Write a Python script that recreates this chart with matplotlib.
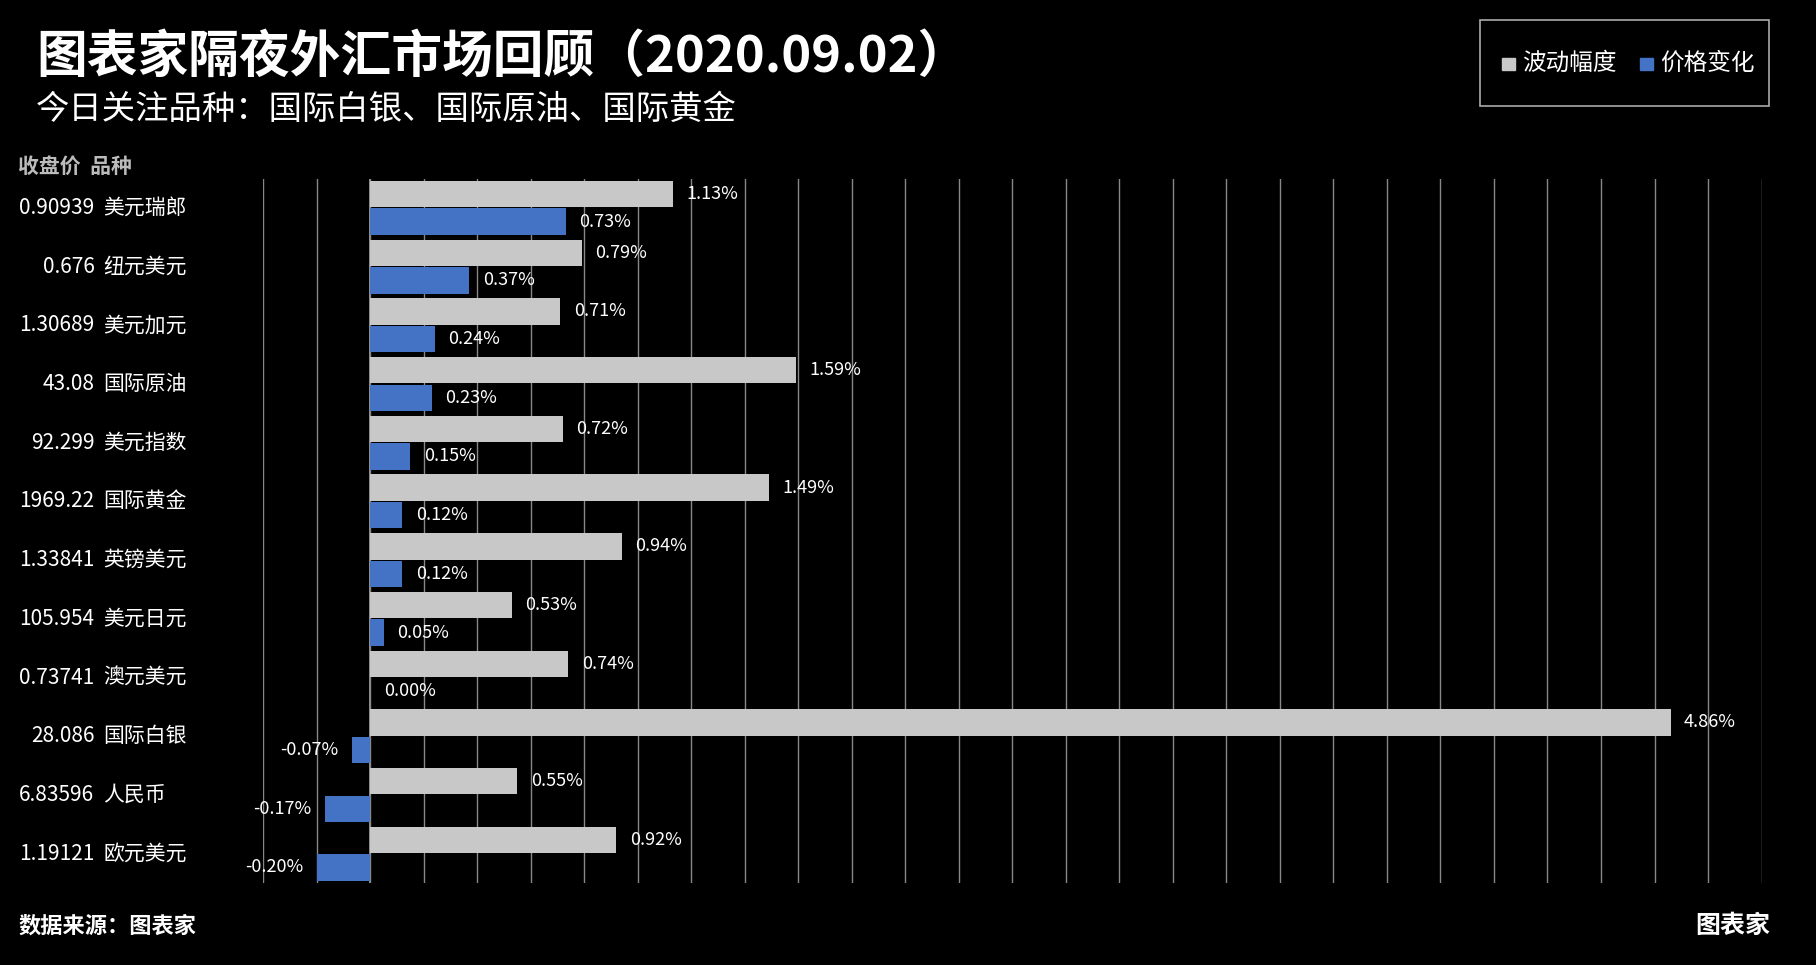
import matplotlib
matplotlib.use('Agg')
import matplotlib.pyplot as plt
import numpy as np
from matplotlib.patches import Rectangle

plt.rcParams['font.family'] = ['Noto Sans CJK SC', 'DejaVu Sans']

names = ['美元瑞郎', '纽元美元', '美元加元', '国际原油', '美元指数', '国际黄金',
         '英镑美元', '美元日元', '澳元美元', '国际白银', '人民币', '欧元美元']
prices = ['0.90939', '0.676', '1.30689', '43.08', '92.299', '1969.22',
          '1.33841', '105.954', '0.73741', '28.086', '6.83596', '1.19121']
volatility = [1.13, 0.79, 0.71, 1.59, 0.72, 1.49, 0.94, 0.53, 0.74, 4.86, 0.55, 0.92]
change = [0.73, 0.37, 0.24, 0.23, 0.15, 0.12, 0.12, 0.05, 0.00, -0.07, -0.17, -0.20]

gray = '#c8c8c8'
blue = '#4472c4'

fig = plt.figure(figsize=(18.16, 9.65), dpi=100, facecolor='black')
ax = fig.add_axes([0.145, 0.085, 0.825, 0.73], facecolor='black')

y = np.arange(len(names))
h = 0.45
ax.barh(y - 0.235, volatility, height=h, color=gray)
ax.barh(y + 0.235, change, height=h, color=blue)

for i in range(len(names)):
    ax.text(volatility[i] + 0.05, y[i] - 0.235, f'{volatility[i]:.2f}%',
            color='white', fontsize=13, va='center', ha='left')
    c = change[i]
    if c >= 0:
        ax.text(c + 0.05, y[i] + 0.235, f'{c:.2f}%', color='white',
                fontsize=13, va='center', ha='left')
    else:
        ax.text(c - 0.05, y[i] + 0.235, f'{c:.2f}%', color='white',
                fontsize=13, va='center', ha='right')

ax.set_xlim(-0.4, 5.2)
ax.set_ylim(len(names) - 0.5, -0.5)
ax.set_xticks(np.arange(-0.4, 5.21, 0.2))
ax.grid(axis='x', color='#888888', linewidth=1)
ax.set_axisbelow(True)
ax.tick_params(left=False, bottom=False, labelleft=False, labelbottom=False)
for s in ax.spines.values():
    s.set_visible(False)
ax.axvline(0, color='#aaaaaa', linewidth=1.2, zorder=0)

for i in range(len(names)):
    yy = ax.transData.transform((0, y[i]))[1]
    yf = fig.transFigure.inverted().transform((0, yy))[1]
    fig.text(0.052, yf, prices[i], color='white', fontsize=15, ha='right', va='center')
    fig.text(0.057, yf, names[i], color='white', fontsize=15, ha='left', va='center')

fig.text(0.010, 0.828, '收盘价  品种', color='#bbbbbb', fontsize=15,
         fontweight='bold', va='center')
fig.text(0.020, 0.941, '图表家隔夜外汇市场回顾（2020.09.02）', color='white',
         fontsize=36.5, fontweight='bold', va='center')
fig.text(0.020, 0.887, '今日关注品种：国际白银、国际原油、国际黄金', color='white',
         fontsize=24, va='center')
fig.text(0.010, 0.040, '数据来源：图表家', color='white', fontsize=16,
         fontweight='bold', va='center')

# legend box
fig.patches.append(Rectangle((0.815, 0.890), 0.159, 0.089, transform=fig.transFigure,
                             fill=False, edgecolor='#aaaaaa', linewidth=1.2))
fig.patches.append(Rectangle((0.827, 0.927), 0.007, 0.013, transform=fig.transFigure,
                             color=gray))
fig.text(0.838, 0.934, '波动幅度', color='white', fontsize=17, va='center')
fig.patches.append(Rectangle((0.903, 0.927), 0.007, 0.013, transform=fig.transFigure,
                             color=blue))
fig.text(0.914, 0.934, '价格变化', color='white', fontsize=17, va='center')

fig.text(0.975, 0.040, '图表家', color='white', fontsize=18, fontweight='bold',
         ha='right', va='center')

fig.savefig('out.png', dpi=100, facecolor='black')
